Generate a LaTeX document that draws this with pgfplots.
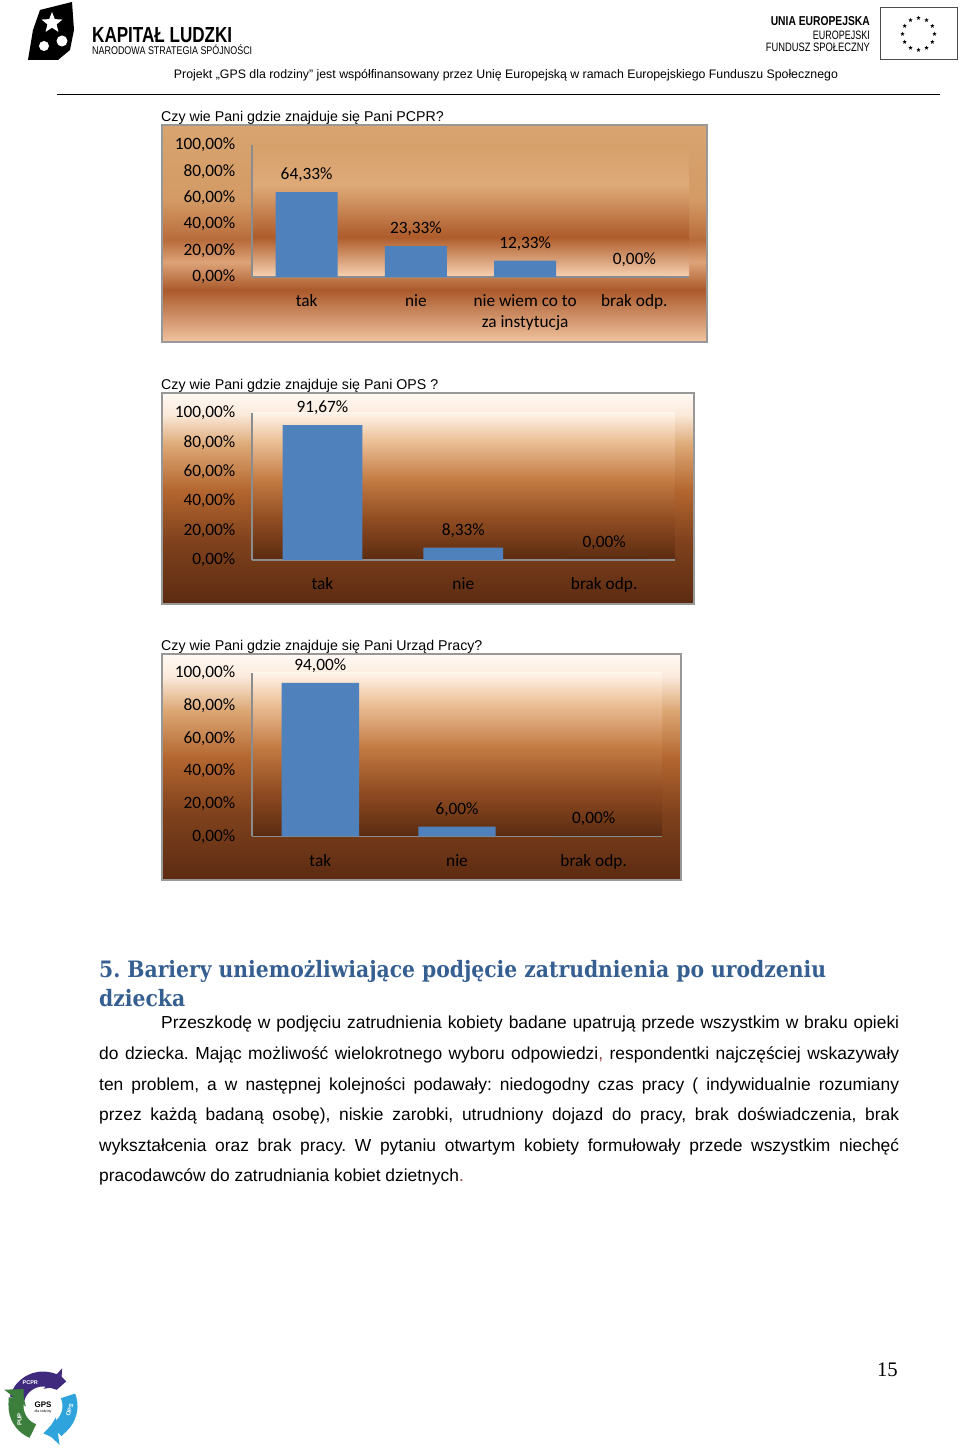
\documentclass[border=0pt]{standalone}
\usepackage{fontspec}
\setmainfont{Liberation Sans}
\newfontfamily\chartfont{Carlito}
\newfontfamily\headfont{DejaVu Serif Condensed}
\newfontfamily\timesfont{Liberation Serif}
\usepackage{graphicx}
\usepackage{pgfplots}
\pgfplotsset{compat=1.18}
\usetikzlibrary{arrows.meta,shapes.geometric}

\definecolor{barblue}{HTML}{4F81BD}
\definecolor{axisgray}{HTML}{8C8C8C}
\definecolor{framegray}{HTML}{989898}
\definecolor{headblue}{HTML}{365F91}
\definecolor{darkred}{HTML}{8B3A3A}
\definecolor{purp}{HTML}{3F2A7E}
\definecolor{cyanlogo}{HTML}{2FA4DC}
\definecolor{greenlogo}{HTML}{3C7E3C}

\definecolor{oA1}{HTML}{D8A470}
\definecolor{oA2}{HTML}{D39A65}
\definecolor{oA3}{HTML}{B86B3B}
\definecolor{oA4}{HTML}{DDA378}
\definecolor{oA5}{HTML}{AB5A2C}
\definecolor{oA6}{HTML}{F0C4A0}
\definecolor{iA1}{HTML}{D6A06B}
\definecolor{iA2}{HTML}{DEAA78}
\definecolor{iA3}{HTML}{AE5C2B}
\definecolor{iA4}{HTML}{F8D3B3}
\definecolor{oB1}{HTML}{FFF9F4}
\definecolor{oB2}{HTML}{FBEADB}
\definecolor{oB3}{HTML}{DCA774}
\definecolor{oB4}{HTML}{B4662F}
\definecolor{oB5}{HTML}{80421D}
\definecolor{oB6}{HTML}{5C2B12}
\definecolor{iB1}{HTML}{FFF4EA}
\definecolor{iB2}{HTML}{EDC29A}
\definecolor{iB3}{HTML}{C27A42}
\definecolor{iB4}{HTML}{8F4B21}
\definecolor{iB5}{HTML}{5A2B11}

\pgfdeclareverticalshading{outerA}{100bp}{color(0bp)=(oA6); color(25bp)=(oA6); color(37bp)=(oA5); color(43.4bp)=(oA4); color(48.5bp)=(oA3); color(57.7bp)=(oA2); color(75bp)=(oA1); color(100bp)=(oA1)}
\pgfdeclareverticalshading{innerA}{100bp}{color(0bp)=(iA4); color(25bp)=(iA4); color(40.2bp)=(iA3); color(59.8bp)=(iA2); color(75bp)=(iA1); color(100bp)=(iA1)}
\pgfdeclareverticalshading{outerB}{100bp}{color(0bp)=(oB6); color(25bp)=(oB6); color(40bp)=(oB5); color(52bp)=(oB4); color(62.5bp)=(oB3); color(70bp)=(oB2); color(75bp)=(oB1); color(100bp)=(oB1)}
\pgfdeclareverticalshading{innerB}{100bp}{color(0bp)=(iB5); color(25bp)=(iB5); color(38.5bp)=(iB4); color(52bp)=(iB3); color(66bp)=(iB2); color(75bp)=(iB1); color(100bp)=(iB1)}

\pgfplotsset{chartstyle/.style={
  scale only axis, ybar, bar width=0.567, bar shift=0pt,
  ymin=0, ymax=100, xmin=-0.5,
  enlargelimits=false, clip=false,
  axis x line*=bottom, axis y line*=left,
  axis line style={draw=axisgray, line width=1.4pt, -},
  xtick=data, ytick={0,20,40,60,80,100},
  yticklabels={{0,00\%},{20,00\%},{40,00\%},{60,00\%},{80,00\%},{100,00\%}},
  major tick length=0pt, tick style={draw=none},
  yticklabel style={font=\chartfont\fontsize{17.3}{20}\selectfont, anchor=east, inner sep=0pt, xshift=-16.5pt, text=black},
  xticklabel style={font=\chartfont\fontsize{17.3}{21}\selectfont, anchor=north, align=center, inner sep=0pt, yshift=-17.5pt, text=black},
  nodes near coords={\pgfmathprintnumber[assume math mode=true,fixed,fixed zerofill,precision=2,use comma]{\pgfplotspointmeta}\%},
  every node near coord/.append style={font=\chartfont\fontsize{17.3}{20}\selectfont, anchor=base, inner sep=0pt, yshift=12.5pt, text=black},
}}

\newlength\hl
\begin{document}%
\frenchspacing%
\settowidth\hl{\headfont\bfseries\fontsize{20}{24}\selectfont 5. Bariery uniemożliwiające podjęcie zatrudnienia po urodzeniu}%
\pgfmathsetmacro\hsz{20*727/\hl}%
\begin{tikzpicture}
\useasboundingbox (0,0) rectangle (960pt,1448pt);
\fill[white] (0,0) rectangle (960pt,1448pt);

% ---------- header ----------
\fill[black] (28pt,1388pt) -- (33pt,1418pt) -- (40pt,1438pt) -- (72pt,1446pt) -- (74pt,1418pt) -- (70pt,1398pt) -- (58pt,1388pt) -- cycle;
\node[star, star points=5, star point ratio=2.3, fill=white, inner sep=0pt, minimum size=22pt] at (52pt,1425pt) {};
\fill[white] (44pt,1402pt) circle (5pt);
\fill[white] (62pt,1407pt) circle (5.5pt);
\node[anchor=base west, inner sep=0pt] at (92pt,1405pt) {\resizebox{140pt}{15pt}{\bfseries KAPITAŁ LUDZKI}};
\node[anchor=base west, inner sep=0pt] at (92pt,1393pt) {\resizebox{160pt}{10pt}{NARODOWA STRATEGIA SPÓJNOŚCI}};
\node[anchor=base east, inner sep=0pt] at (870pt,1422pt) {\resizebox{99pt}{9pt}{\bfseries UNIA EUROPEJSKA}};
\node[anchor=base east, inner sep=0pt] at (870pt,1408.5pt) {\resizebox{57pt}{8.5pt}{EUROPEJSKI}};
\node[anchor=base east, inner sep=0pt] at (870pt,1396.5pt) {\resizebox{104pt}{8.5pt}{FUNDUSZ SPOŁECZNY}};
\draw[line width=1pt, draw=black!70] (880pt,1388pt) rectangle (957pt,1440pt);
\begin{scope}[shift={(918.5pt,1414pt)}]
\foreach \a in {0,30,...,330}
  \node[star, star points=5, star point ratio=2.4, fill=black, inner sep=0pt, minimum size=4.5pt] at (\a:16pt) {};
\end{scope}
\node[anchor=base, inner sep=0pt] at (506pt,1369pt) {\resizebox{664pt}{!}{\fontsize{13}{15}\selectfont Projekt „GPS dla rodziny" jest współfinansowany przez Unię Europejską w ramach Europejskiego Funduszu Społecznego}};
\draw[line width=1pt] (57pt,1353pt) -- (940pt,1353pt);

% ---------- chart 1 ----------
\node[anchor=base west, inner sep=0pt] at (161pt,1326pt) {\fontsize{14.2}{17}\selectfont Czy wie Pani gdzie znajduje się Pani PCPR?};
\path[shade, shading=outerA, draw=framegray, line width=1.3pt] (162pt,1106pt) rectangle (707pt,1323pt);
\begin{axis}[chartstyle, at={(252pt,1171pt)}, anchor=south west, width=437pt, height=132pt, xmax=3.5,
  xticklabels={tak,nie,{nie wiem co to\\za instytucja},brak odp.},
  axis background/.style={shade, shading=innerA}]
\addplot[fill=barblue, draw=none] coordinates {(0,64.33) (1,23.33) (2,12.33) (3,0)};
\end{axis}

% ---------- chart 2 ----------
\node[anchor=base west, inner sep=0pt] at (161pt,1058pt) {\fontsize{14.2}{17}\selectfont Czy wie Pani gdzie znajduje się Pani OPS ?};
\path[shade, shading=outerB, draw=framegray, line width=1.3pt] (162pt,844pt) rectangle (694pt,1055pt);
\begin{axis}[chartstyle, at={(252pt,888pt)}, anchor=south west, width=422.6pt, height=147pt, xmax=2.5,
  xticklabels={tak,nie,brak odp.},
  axis background/.style={shade, shading=innerB}]
\addplot[fill=barblue, draw=none] coordinates {(0,91.67) (1,8.33) (2,0)};
\end{axis}

% ---------- chart 3 ----------
\node[anchor=base west, inner sep=0pt] at (161pt,797pt) {\fontsize{14.2}{17}\selectfont Czy wie Pani gdzie znajduje się Pani Urząd Pracy?};
\path[shade, shading=outerB, draw=framegray, line width=1.3pt] (162pt,568pt) rectangle (681pt,794pt);
\begin{axis}[chartstyle, at={(252pt,611.5pt)}, anchor=south west, width=410pt, height=163.5pt, xmax=2.5,
  xticklabels={tak,nie,brak odp.},
  axis background/.style={shade, shading=innerB}]
\addplot[fill=barblue, draw=none] coordinates {(0,94) (1,6) (2,0)};
\end{axis}

% ---------- heading & paragraph ----------
\node[anchor=base west, inner sep=0pt, text=headblue] at (99pt,470pt) {\headfont\bfseries\fontsize{\hsz}{\hsz}\selectfont 5. Bariery uniemożliwiające podjęcie zatrudnienia po urodzeniu};
\node[anchor=base west, inner sep=0pt, text=headblue] at (99pt,441pt) {\headfont\bfseries\fontsize{\hsz}{\hsz}\selectfont dziecka};

\node[anchor=base west, inner sep=0pt] at (161pt,419pt) {\fontsize{17.4}{20}\selectfont\makebox[738pt][s]{Przeszkodę w podjęciu zatrudnienia kobiety badane upatrują przede wszystkim w braku opieki}};
\node[anchor=base west, inner sep=0pt] at (99pt,388.4pt) {\fontsize{17.4}{20}\selectfont\makebox[800pt][s]{do dziecka. Mając możliwość wielokrotnego wyboru odpowiedzi{\color{darkred},} respondentki najczęściej wskazywały}};
\node[anchor=base west, inner sep=0pt] at (99pt,357.8pt) {\fontsize{17.4}{20}\selectfont\makebox[800pt][s]{ten problem, a w następnej kolejności podawały: niedogodny czas pracy ( indywidualnie rozumiany}};
\node[anchor=base west, inner sep=0pt] at (99pt,327.2pt) {\fontsize{17.4}{20}\selectfont\makebox[800pt][s]{przez każdą badaną osobę), niskie zarobki, utrudniony dojazd do pracy, brak doświadczenia, brak}};
\node[anchor=base west, inner sep=0pt] at (99pt,296.6pt) {\fontsize{17.4}{20}\selectfont\makebox[800pt][s]{wykształcenia oraz brak pracy. W pytaniu otwartym kobiety formułowały przede wszystkim niechęć}};
\node[anchor=base west, inner sep=0pt] at (99pt,266pt) {\fontsize{17.4}{20}\selectfont pracodawców do zatrudniania kobiet dzietnych{\color{darkred}.}};

% ---------- footer ----------
\node[anchor=base east, inner sep=0pt] at (898pt,71pt) {\timesfont\fontsize{20.7}{24}\selectfont 15};
\begin{scope}[shift={(43pt,42pt)}]
\draw[line width=15pt, purp, -{Triangle[length=11pt,width=27pt]}] (165:27pt) arc[start angle=165, end angle=48, radius=27pt];
\draw[line width=15pt, cyanlogo, -{Triangle[length=11pt,width=27pt]}] (22:27pt) arc[start angle=22, end angle=-82, radius=27pt];
\draw[line width=15pt, greenlogo, -{Triangle[length=11pt,width=27pt]}] (-112:27pt) arc[start angle=-112, end angle=-218, radius=27pt];
\node[inner sep=0pt, font=\bfseries\fontsize{8}{9}\selectfont] at (0,1pt) {GPS};
\node[inner sep=0pt, font=\fontsize{3.5}{4}\selectfont] at (0,-6pt) {dla rodziny};
\node[inner sep=0pt, text=white, font=\bfseries\fontsize{5.5}{6}\selectfont] at (118:27pt) {PCPR};
\node[inner sep=0pt, text=white, rotate=70, font=\bfseries\fontsize{6}{7}\selectfont] at (-8:27pt) {OPS};
\node[inner sep=0pt, text=white, rotate=90, font=\bfseries\fontsize{6}{7}\selectfont] at (-150:27pt) {PUP};
\end{scope}
\end{tikzpicture}%
\end{document}
